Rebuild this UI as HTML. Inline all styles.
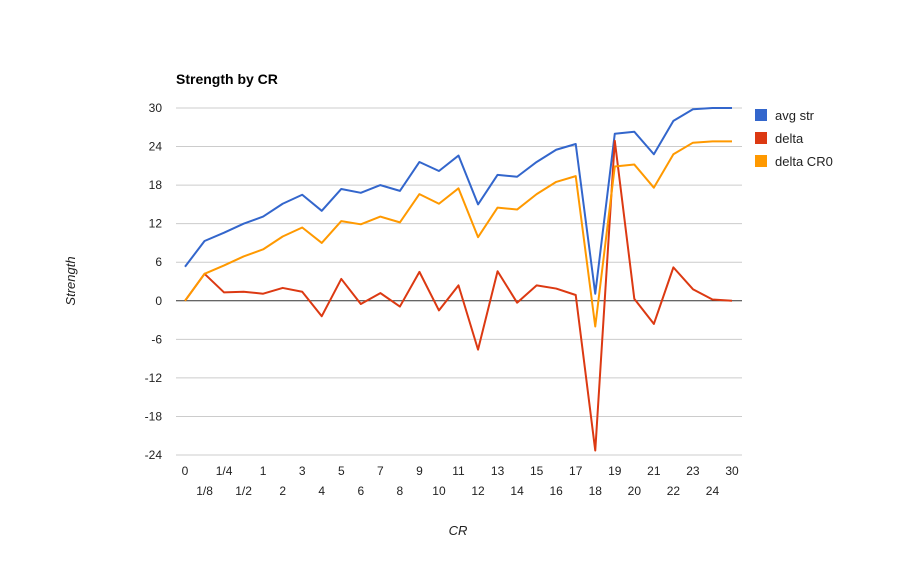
<!DOCTYPE html>
<html><head><meta charset="utf-8"><style>
body{margin:0;background:#fff;font-family:"Liberation Sans",Arial,sans-serif;}
svg text{font-family:"Liberation Sans",Arial,sans-serif;}
</style></head><body>
<svg id="chart" width="916" height="563" xmlns="http://www.w3.org/2000/svg">
<rect width="916" height="563" fill="#fff"/>
<text x="176" y="84" font-size="14" font-weight="bold" fill="#000">Strength by CR</text>
<g id="grid"></g><g id="ylabels"></g><g id="xlabels"></g><g id="series"></g>
<text transform="translate(75,281) rotate(-90)" text-anchor="middle" font-size="13" font-style="italic" fill="#222">Strength</text>
<text x="458" y="535" text-anchor="middle" font-size="13" font-style="italic" fill="#222">CR</text>
<g id="legend"></g>
</svg>
<script>
const categories=["0","1/8","1/4","1/2","1","2","3","4","5","6","7","8","9","10","11","12","13","14","15","16","17","18","19","20","21","22","23","24","30"];
const avgStr=[5.3,9.3,10.6,12.0,13.1,15.1,16.5,14.0,17.4,16.8,18.0,17.1,21.6,20.2,22.6,15.0,19.6,19.3,21.6,23.5,24.4,1.1,26.0,26.3,22.8,28.0,29.8,30.0,30.0];
const delta=[0,4.2,1.3,1.4,1.1,2.0,1.4,-2.4,3.4,-0.5,1.2,-0.9,4.5,-1.5,2.4,-7.6,4.6,-0.3,2.4,1.9,0.9,-23.3,24.9,0.3,-3.6,5.2,1.8,0.2,0];
const deltaCR0=[0,4.2,5.5,6.9,8.0,10.0,11.4,9.0,12.4,11.9,13.1,12.2,16.6,15.1,17.5,9.9,14.5,14.2,16.6,18.5,19.4,-4.0,20.9,21.2,17.6,22.8,24.6,24.8,24.8];
const yTicks=[30,24,18,12,6,0,-6,-12,-18,-24];
const seriesNames=["avg str","delta","delta CR0"];
const NS="http://www.w3.org/2000/svg";
const x0=185,x1=732,yTop=108,yBot=455,vTop=30,vBot=-24;
const xs=i=>x0+(x1-x0)*i/(categories.length-1);
const ys=v=>yTop+(vTop-v)*(yBot-yTop)/(vTop-vBot);
function mk(t,a,p){const e=document.createElementNS(NS,t);for(const k in a)e.setAttribute(k,a[k]);p.appendChild(e);return e;}
const grid=document.getElementById('grid'),yl=document.getElementById('ylabels'),xl=document.getElementById('xlabels'),sg=document.getElementById('series'),lg=document.getElementById('legend');
yTicks.forEach(v=>{
 const l=mk('line',{x1:176,x2:742,y1:ys(v),y2:ys(v),stroke:v===0?'#333':'#ccc','stroke-width':1},grid);
 
 
 const t=mk('text',{x:162,y:ys(v)+4,'text-anchor':'end','font-size':12,fill:'#222'},yl);
 t.textContent=v;
 
 
});
categories.forEach((c,i)=>{
 const t=mk('text',{x:xs(i),y:i%2?495:475,'text-anchor':'middle','font-size':12,fill:'#222'},xl);
 t.textContent=c;
 
 
});
const colors=["#3366cc","#dc3912","#ff9900"];
[avgStr,delta,deltaCR0].forEach((arr,s)=>{
 const p=mk('polyline',{points:arr.map((v,i)=>xs(i)+','+ys(v)).join(' '),fill:'none',stroke:colors[s],'stroke-width':2,'stroke-linejoin':'round'},sg);
 
 
});
seriesNames.forEach((n,s)=>{
 const y=115+s*23;
 const r=mk('rect',{x:755,y:y-6,width:12,height:12,fill:colors[s]},lg);
 
 
 const t=mk('text',{x:775,y:y+5,'font-size':13,fill:'#222'},lg);
 t.textContent=n;
 
 
});
</script>
</body></html>
